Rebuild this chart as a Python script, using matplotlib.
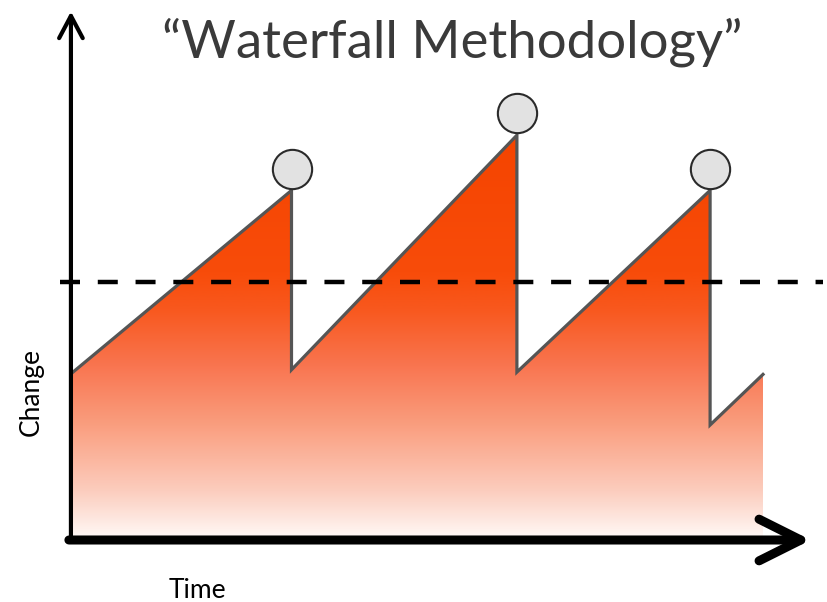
import numpy as np
import matplotlib.pyplot as plt
from matplotlib.colors import LinearSegmentedColormap

# sawtooth of change over time (arbitrary units)
time = [0, 9.5, 9.5, 19.3, 19.3, 27.7, 27.7, 30.0]
change = [7.3, 15.2, 7.4, 17.6, 7.3, 15.2, 5.0, 7.2]
# the releases that get "dropped over the waterfall"
peak_time = [9.5, 19.3, 27.7]
peak_change = [15.2, 17.6, 15.2]
threshold = 11.2

title = "\u201cWaterfall Methodology\u201d"
xlabel = "Time"
ylabel = "Change"

plt.rcParams['font.family'] = ['Lato', 'DejaVu Sans']

fig = plt.figure(figsize=(8.27, 6.02), dpi=100)
ax = fig.add_axes([0, 0, 1, 1])
u = 23.0  # pixels per unit
ax.set_xlim(-73 / u, (827 - 73) / u)
ax.set_ylim(-(602 - 540) / u, 540 / u)
ax.axis('off')

# gradient filled area under the sawtooth
poly = ax.fill_between(time, change, 0, color='none', lw=0)
cmap = LinearSegmentedColormap.from_list('fall', [
    (0.00, '#fffaf8'),
    (0.12, '#fccdbe'),
    (0.28, '#fa9f80'),
    (0.43, '#f97550'),
    (0.57, '#f8581e'),
    (0.66, '#f84c0a'),
    (1.00, '#f54400'),
])
grad = np.linspace(0, 1, 256).reshape(-1, 1)
img = ax.imshow(grad, cmap=cmap, origin='lower', aspect='auto',
                extent=[min(time), max(time), 0, max(change)], zorder=1)
img.set_clip_path(poly.get_paths()[0], transform=ax.transData)

# outline of the sawtooth
ax.plot(time, change, color='#555555', lw=2.3, solid_joinstyle='miter', zorder=3)

# dashed threshold
ax.plot([-0.55, 32.6], [threshold, threshold], color='black', lw=3.2,
        dashes=(4.5, 4), zorder=4)

# circles sitting on the peaks
ax.scatter(peak_time, np.array(peak_change) + 0.95, s=800, color='#e2e2e2',
           edgecolor='#2a2a2a', linewidth=1.5, zorder=5)

# axes arrows
ax.annotate('', xy=(-0.09, 23.1), xytext=(-0.09, -0.1),
            arrowprops=dict(arrowstyle='->,head_length=1.6,head_width=0.85',
                            lw=3, color='black'), zorder=6)
ax.annotate('', xy=(32.2, 0.0), xytext=(-0.3, 0.0),
            arrowprops=dict(arrowstyle='->,head_length=3.0,head_width=1.5',
                            lw=6.5, color='black', capstyle='round',
                            joinstyle='round'), zorder=6)

ax.text((452 - 73) / u, (540 - 42) / u, title, ha='center', va='center',
        fontsize=38, color='#3a3a3a')
ax.text((197 - 73) / u, (540 - 590) / u, xlabel, ha='center', va='center',
        fontsize=19, color='black')
ax.text((31 - 73) / u, (540 - 392) / u, ylabel, ha='center', va='center',
        rotation=90, fontsize=19, color='black')

fig.savefig('out.png', dpi=100)
